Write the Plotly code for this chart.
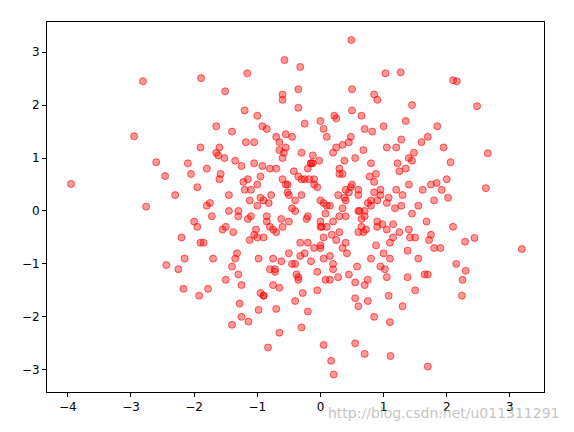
import plotly.graph_objects as go

# Points read (approximately) off the reference picture
x_vals = [-3.95,-2.81,-2.95,-2.76,0.49,3.19,2.65,2.62,2.48,0.21,0.17,0.05,1.70,1.11,0.70,-0.83,-1.16,-0.57,-0.32,1.03,1.27,2.10,2.16,-1.89,-1.51,-2.46,-2.60,-2.44,-2.17,-1.92,-1.78,-1.40,-1.14,-0.98,2.24,2.30,2.44,2.29,2.10,1.92,1.84,2.06,
 -2.3,-2.2,-2.1,-2.0,-1.9,-1.8,-1.7,-1.6,-1.5,-1.4,-1.3,-1.2,-1.1,-1.0,-0.9,-0.8,-0.7,-0.6,-0.5,-0.4,-0.3,-0.2,-0.1,0.0,0.1,0.2,0.3,0.4,0.5,0.6,0.7,0.8,0.9,1.0,1.1,1.2,1.3,1.4,1.5,1.6,1.7,1.8,1.9,2.0,
 -2.25,-2.05,-1.85,-1.65,-1.45,-1.25,-1.05,-0.85,-0.65,-0.45,-0.25,-0.05,0.15,0.35,0.55,0.75,0.95,1.15,1.35,1.55,1.75,1.95,2.15,
 -1.72,-1.52,-1.32,-1.12,-0.92,-0.72,-0.52,-0.32,-0.12,0.08,0.28,0.48,0.68,0.88,1.08,1.28,1.48,1.68,
 -1.58,-1.38,-1.18,-0.98,-0.78,-0.58,-0.38,-0.18,0.02,0.22,0.42,0.62,0.82,1.02,1.22,1.42,1.62,
 -1.3,-1.1,-0.9,-0.7,-0.5,-0.3,-0.1,0.1,0.3,0.5,0.7,0.9,1.1,1.3,
 -1.0,-0.8,-0.6,-0.4,-0.2,0.0,0.2,0.4,0.6,0.8,1.0,
 -0.75,-0.55,-0.35,-0.15,0.05,0.25,0.45,0.65,0.85,
 -1.9,-1.6,-1.3,-1.0,-0.7,-0.4,-0.1,0.2,0.5,0.8,1.1,1.4,1.7,
 -1.8,-1.5,-1.2,-0.9,-0.6,-0.3,0.0,0.3,0.6,0.9,1.2,1.5,1.8,
 -1.45,-1.15,-0.85,-0.55,-0.25,0.05,0.35,0.65,0.95,1.25,1.55,
 -1.65,-1.35,-1.05,-0.75,-0.45,-0.15,0.15,0.45,0.75,1.05,1.35,1.65,
 -0.9,-0.6,-0.3,0.0,0.3,0.6,0.9,-0.5,-0.2,0.1,0.4,0.7,
 -2.15,-1.95,2.25,1.85,-0.35,0.55,0.85,-1.25,1.45,-0.65,
 -1.22,-1.02,-0.82,-0.62,-0.42,-0.22,-0.02,0.18,0.38,0.58,0.78,0.98,1.18,1.38,
 -1.12,-0.92,-0.72,-0.52,-0.32,-0.12,0.08,0.28,0.48,0.68,0.88,1.08,1.28,
 -1.35,-1.15,-0.95,-0.75,-0.55,-0.35,-0.15,0.05,0.25,0.45,0.65,0.85,1.05,1.25,1.45,
 -0.85,-0.65,-0.45,-0.25,-0.05,0.15,0.35,0.55,0.75,0.95,
 -1.55,-1.25,-0.95,-0.65,-0.35,-0.05,0.25,0.55,0.85,1.15,1.45,
 -1.75,-1.4,-1.05,-0.7,-0.35,0.0,0.35,0.7,1.05,1.4,1.75,
 -0.6,-0.4,-0.2,0.0,0.2,0.4,0.6,0.8,-0.8,-1.0,
 -1.95,-1.62,-1.28,-0.95,-0.62,-0.28,0.05,0.38,0.72,1.05,1.38,1.72,2.02]
y_vals = [0.51,2.45,1.41,0.08,3.23,-0.72,1.09,0.43,1.98,-3.09,-2.83,-2.53,-2.94,-2.74,-2.70,-2.58,2.60,2.85,2.72,2.60,2.62,2.47,2.45,2.51,2.26,0.66,0.92,-1.02,-1.47,-1.60,-1.47,-2.15,-2.09,-1.87,-1.60,-1.13,-0.51,-0.58,-0.30,0.40,0.53,0.92,
 0.3,-0.5,0.9,-0.2,1.2,0.1,-0.9,0.6,-0.3,1.5,-1.2,0.4,-0.1,1.8,-1.6,0.8,-0.4,2.1,-0.8,0.2,1.1,-1.9,0.5,-0.2,1.4,-1.1,0.7,-0.6,1.9,0.0,-1.4,0.9,-0.3,1.6,-0.9,0.4,-1.8,1.0,-0.5,1.3,-1.2,0.2,-0.7,0.6,
 -1.1,0.7,-0.6,1.6,0.3,-1.4,0.9,-0.2,1.3,-1.0,0.6,-1.5,0.1,-0.7,1.0,-1.3,0.3,-0.5,1.7,-0.9,0.5,1.2,-1.0,
 -0.1,1.0,-0.8,0.2,1.6,-1.1,0.5,-0.6,0.9,-1.3,0.3,1.4,-0.4,0.7,-1.6,0.1,1.1,-0.2,
 0.7,-0.4,1.3,-0.9,0.3,1.1,-1.2,0.6,-0.3,1.8,-0.8,0.0,1.5,-1.1,0.9,-0.5,0.4,
 -0.1,0.4,-0.5,0.8,-0.2,0.3,-0.7,0.1,-0.4,0.5,-0.1,0.2,-0.6,0.3,
 0.1,-0.3,0.6,0.0,-0.6,0.2,-0.2,0.4,-0.4,0.1,-0.8,
 -0.9,1.2,-1.3,0.9,-0.9,1.2,-1.2,1.8,-2.0,
 -0.6,1.2,0.0,-0.5,1.4,-1.7,0.6,-1.0,2.3,0.2,-2.1,0.5,1.4,
 0.8,-1.3,1.9,-1.6,2.2,-2.2,1.7,0.8,-1.8,2.1,1.2,-1.5,-0.7,
 0.0,0.6,-0.1,0.5,-0.8,-0.5,0.7,-0.3,0.4,-0.4,0.1,
 1.1,-0.9,1.3,-1.4,1.4,0.9,-1.3,1.3,-1.7,1.2,0.8,-1.2,
 0.2,-0.3,0.6,-0.7,-0.1,0.4,-0.2,0.3,-0.1,-0.3,0.2,0.0,
 -0.9,-0.3,-1.3,1.6,2.3,-2.5,2.2,-2.0,2.0,-2.3,
 0.55,-0.35,0.15,-0.95,0.75,-0.15,0.95,-0.45,0.25,-1.05,0.65,-0.25,0.05,-0.75,
 -0.55,0.85,-1.15,0.35,-0.85,1.05,-0.05,-1.25,0.45,1.15,-0.65,0.25,1.35,
 0.95,-0.15,0.25,-0.35,1.45,0.65,-0.95,0.15,-0.55,0.35,-0.15,0.55,-0.35,0.75,-0.05,
 1.55,-1.45,0.05,1.65,-1.15,-0.85,1.25,-1.35,0.15,-1.05,
 -0.35,0.85,-1.55,1.15,-1.25,0.45,1.75,-1.65,0.35,-0.25,0.95,
 0.15,-1.05,-0.45,-1.85,1.95,-0.65,0.05,1.55,-1.25,-0.35,-0.45,
 1.0,-1.0,0.8,-0.3,1.1,-0.1,0.3,-0.9,-1.1,0.5,
 0.45,1.05,-1.75,0.65,-0.15,-1.55,1.55,0.95,-0.35,0.15,-1.25,-0.55,0.25]

fig = go.Figure(go.Scatter(
    x=x_vals, y=y_vals, mode="markers",
    marker=dict(size=7, color="rgba(255,0,0,0.4)", line=dict(color="rgba(255,0,0,0.6)", width=1)),
))
ax = dict(showgrid=False, zeroline=False, showline=True, mirror=True, linecolor="black",
          linewidth=1, ticks="outside", ticklen=4, tickcolor="black", automargin=False)
fig.update_xaxes(range=[-4.33, 3.54], dtick=1, **ax)
fig.update_yaxes(range=[-3.42, 3.57], dtick=1, **ax)
fig.update_layout(width=574, height=432, plot_bgcolor="white", paper_bgcolor="white",
                  margin=dict(l=39, r=38, t=14, b=48), showlegend=False,
                  font=dict(family="DejaVu Sans", size=12, color="black"))
fig.add_annotation(text="http://blog.csdn.net/u011311291", xref="paper", yref="paper",
                   x=1.036, y=-0.03, xanchor="right", yanchor="top", showarrow=False,
                   font=dict(size=14, color="rgba(180,180,180,0.8)"))
fig.write_html("out.html")
